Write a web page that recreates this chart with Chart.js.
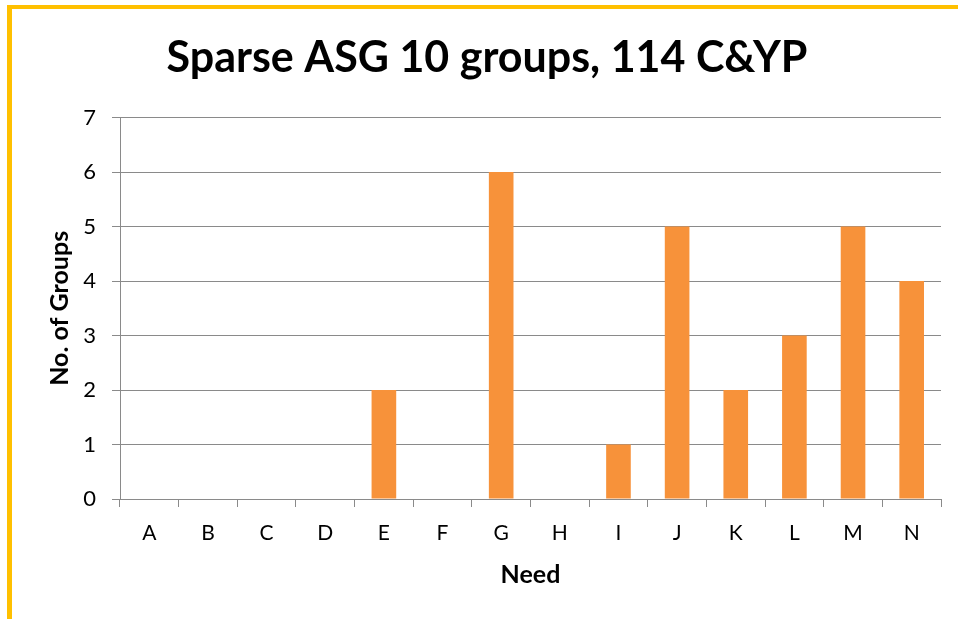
<!DOCTYPE html>
<html>
<head>
<meta charset="utf-8">
<script src="https://cdn.jsdelivr.net/npm/chart.js@4"></script>
<style>
  html, body { margin: 0; padding: 0; background: #fff; }
  #wrap { position: relative; width: 958px; height: 619px; }
  #frame {
    position: absolute; left: 7px; top: 5px; right: 0; bottom: 0;
    border-left: 5px solid #FFC000; border-top: 4px solid #FFC000;
    pointer-events: none;
  }
  canvas { position: absolute; left: 0; top: 0; }
</style>
</head>
<body>
<div id="wrap">
  <canvas id="chart" width="958" height="619"></canvas>
  <div id="frame"></div>
</div>
<script>
// ─── Data ─────────────────────────────────────────────
const needs  = ['A', 'B', 'C', 'D', 'E', 'F', 'G', 'H', 'I', 'J', 'K', 'L', 'M', 'N'];
const groups = [0, 0, 0, 0, 2, 0, 6, 0, 1, 5, 2, 3, 5, 4];
const yTicks = [0, 1, 2, 3, 4, 5, 6, 7];

const chartTitle = 'Sparse ASG 10 groups, 114 C&YP';
const xTitle     = 'Need';
const yTitle     = 'No. of Groups';

// ─── Style ────────────────────────────────────────────
const FONT   = 'Lato, Calibri, Carlito, sans-serif';
const GRID   = '#8a8a8a';
const BAR    = '#F7923A';

const ctx = document.getElementById('chart').getContext('2d');

new Chart(ctx, {
    type: 'bar',
    data: {
        labels: needs,
        datasets: [{
            data: groups,
            backgroundColor: BAR,
            borderWidth: 0,
            barPercentage: 0.42,
            categoryPercentage: 1,
        }],
    },
    options: {
        responsive: false,
        animation: false,
        layout: { padding: { left: 33, right: 17, top: 0, bottom: 0 } },
        plugins: {
            legend: { display: false },
            tooltip: { enabled: false },
            title: {
                display: true,
                text: chartTitle,
                color: '#000',
                font: { family: FONT, size: 43, weight: 'bold', lineHeight: 1.2 },
                padding: { top: 32, bottom: 34 },
            },
        },
        scales: {
            x: {
                grid: {
                    offset: true,
                    drawOnChartArea: false,
                    color: GRID,
                    tickLength: 8,
                },
                border: { color: GRID, width: 1 },
                ticks: {
                    color: '#000',
                    font: { family: FONT, size: 21 },
                    padding: 14,
                },
                title: {
                    display: true,
                    text: xTitle,
                    color: '#000',
                    font: { family: FONT, size: 25, weight: 'bold', lineHeight: 1.2 },
                    padding: { top: 0, bottom: 29 },
                },
                afterFit: scale => { scale.height = 120; },
            },
            y: {
                min: 0,
                max: 7,
                afterBuildTicks: scale => { scale.ticks = yTicks.map(v => ({ value: v })); },
                grid: { color: GRID, tickLength: 8 },
                border: { color: GRID, width: 1 },
                ticks: {
                    color: '#000',
                    font: { family: FONT, size: 22 },
                    padding: 16,
                },
                title: {
                    display: true,
                    text: yTitle,
                    color: '#000',
                    font: { family: FONT, size: 25, weight: 'bold', lineHeight: 1.2 },
                    padding: { top: 12, bottom: 0 },
                },
                afterFit: scale => { scale.width = 87; },
            },
        },
    },
});
</script>
</body>
</html>
